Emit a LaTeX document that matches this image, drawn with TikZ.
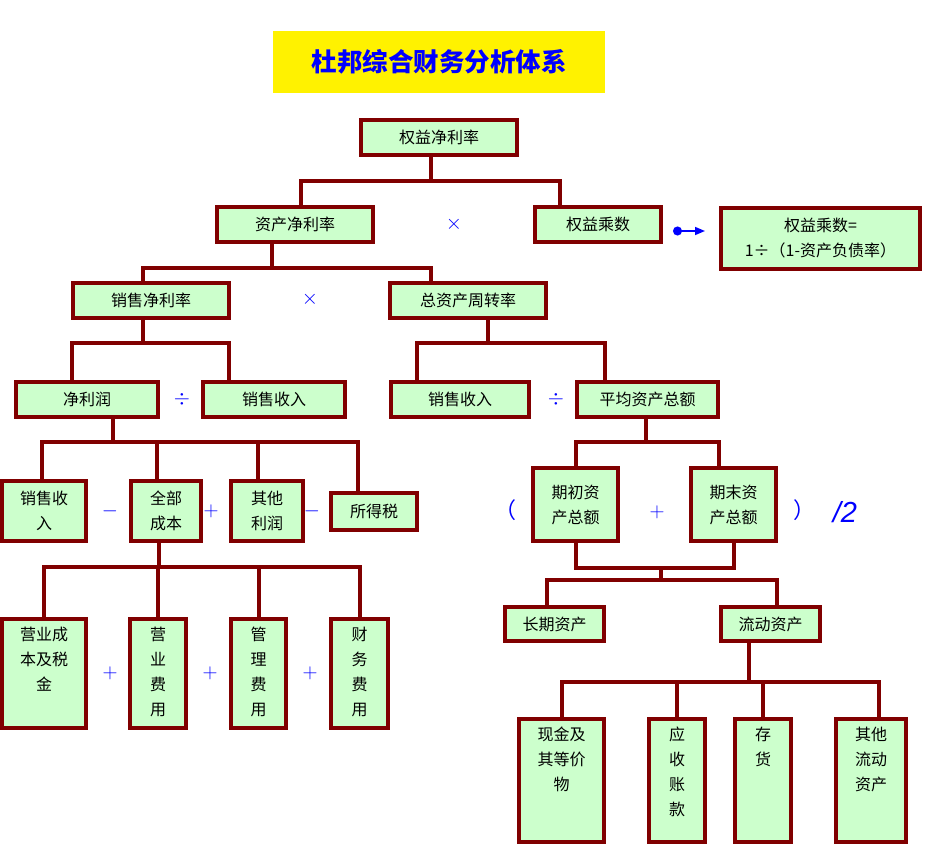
\documentclass[tikz,border=0pt]{standalone}
\usepackage{fontspec}
\newfontfamily\cjk{Noto Sans CJK SC}
\newfontfamily\lsans{Liberation Sans}
\usetikzlibrary{arrows.meta}
\definecolor{boxred}{HTML}{800000}
\definecolor{boxgreen}{HTML}{CCFFCC}
\definecolor{opblue}{HTML}{0000FF}
\begin{document}
\begin{tikzpicture}[x=1pt, y=-1pt,
  box/.style={draw=boxred, line width=4pt, fill=boxgreen, inner sep=0pt, align=center, font=\cjk\fontsize{16}{25}\selectfont},
  coltext/.style={anchor=north, inner sep=0pt, align=center, font=\cjk\fontsize{16}{25}\selectfont},
  link/.style={draw=boxred, line width=4pt},
  op/.style={text=opblue, inner sep=0pt, font=\fontsize{21}{21}\selectfont}]
\useasboundingbox (0,0) rectangle (945,853);
\node[fill=yellow, minimum width=332, minimum height=62, inner sep=0pt, text=opblue, font=\cjk\bfseries\fontsize{25.5}{26}\selectfont] (title) at (439,62) {杜邦综合财务分析体系};
\node[box, minimum width=156, minimum height=35] (roe) at (439,137.5) {权益净利率};
\node[box, minimum width=156, minimum height=35] (roa) at (295,224.5) {资产净利率};
\node[box, minimum width=126, minimum height=35] (em) at (598,224.5) {权益乘数};
\node[box, minimum width=199, minimum height=61] (emf) at (820.5,238.5) {权益乘数=\\1÷（1-资产负债率）};
\node[box, minimum width=156, minimum height=35] (npm) at (151,300.5) {销售净利率};
\node[box, minimum width=156, minimum height=35] (tat) at (468,300.5) {总资产周转率};
\node[box, minimum width=142, minimum height=35] (np) at (87,399.5) {净利润};
\node[box, minimum width=142, minimum height=35] (sales) at (274,399.5) {销售收入};
\node[box, minimum width=138, minimum height=35] (salesr) at (460,399.5) {销售收入};
\node[box, minimum width=141, minimum height=35] (avgta) at (647.5,399.5) {平均资产总额};
\node[box, minimum width=84, minimum height=60] (rev) at (44,511) {销售收\\入};
\node[box, minimum width=70, minimum height=60] (tc) at (166,511) {全部\\成本};
\node[box, minimum width=72, minimum height=60] (oi) at (267,511) {其他\\利润};
\node[box, minimum width=86, minimum height=37] (tax) at (374,511.5) {所得税};
\node[box, minimum width=85, minimum height=73] (bta) at (575.5,504.5) {期初资\\产总额};
\node[box, minimum width=85, minimum height=73] (eta) at (733.5,504.5) {期末资\\产总额};
\node[box, minimum width=99, minimum height=34] (lta) at (554.5,624) {长期资产};
\node[box, minimum width=99, minimum height=34] (ca) at (770.5,624) {流动资产};
\node[box, minimum width=84, minimum height=109] (cost) at (44,673.5) {};
\node[box, minimum width=56, minimum height=109] (sell) at (158,673.5) {};
\node[box, minimum width=55, minimum height=109] (admin) at (258.5,673.5) {};
\node[box, minimum width=57, minimum height=109] (fin) at (359.5,673.5) {};
\node[box, minimum width=85, minimum height=123] (cash) at (561.5,780.5) {};
\node[box, minimum width=56, minimum height=123] (recv) at (677,780.5) {};
\node[box, minimum width=56, minimum height=123] (inv) at (763,780.5) {};
\node[box, minimum width=70, minimum height=123] (oca) at (871,780.5) {};
\node[coltext] (costt) at ([yshift=-10pt]cost.north) {营业成\\本及税\\金};
\node[coltext] (sellt) at ([yshift=-10pt]sell.north) {营\\业\\费\\用};
\node[coltext] (admint) at ([yshift=-10pt]admin.north) {管\\理\\费\\用};
\node[coltext] (fint) at ([yshift=-10pt]fin.north) {财\\务\\费\\用};
\node[coltext] (casht) at ([yshift=-10pt]cash.north) {现金及\\其等价\\物};
\node[coltext] (recvt) at ([yshift=-10pt]recv.north) {应\\收\\账\\款};
\node[coltext] (invt) at ([yshift=-10pt]inv.north) {存\\货};
\node[coltext] (ocat) at ([yshift=-10pt]oca.north) {其他\\流动\\资产};
\node[op] (mul1) at (454,224) {$\times$};
\node[op] (mul2) at (310,299) {$\times$};
\node[op] (div1) at (182,399) {$\div$};
\node[op] (div2) at (556,399) {$\div$};
\node[op] (sub1) at (110,511) {$-$};
\node[op] (add1) at (211,511) {$+$};
\node[op] (sub2) at (312,511) {$-$};
\node[op] (add2) at (110,673) {$+$};
\node[op] (add3) at (210,673) {$+$};
\node[op] (add4) at (310,673) {$+$};
\node[op] (add5) at (657,512) {$+$};
\node[op, font=\cjk\fontsize{22}{22}\selectfont] (lpar) at (505,510) {（};
\node[op, font=\cjk\fontsize{22}{22}\selectfont] (rpar) at (804,510) {）};
\node[op, font=\lsans\itshape\fontsize{29}{29}\selectfont] (half) at (845,512) {/2};
\coordinate (tail) at (673,231);
\coordinate (tip) at (705,231);
\draw[opblue, line width=1.5pt, {Circle[length=9pt]}-{Triangle[length=10pt,width=8pt]}] (tail) -- (tip);
\coordinate (b1) at (431,181);
\draw[link] ([xshift=-8]roe.south) -- (b1);
\draw[link] ([xshift=6]roa.north) |- (b1) -| ([xshift=-38]em.north);
\coordinate (b2) at (272,268);
\draw[link] ([xshift=-23]roa.south) -- (b2);
\draw[link] ([xshift=-8]npm.north) |- (b2) -| ([xshift=-37]tat.north);
\coordinate (b3) at (143,343);
\draw[link] ([xshift=-8]npm.south) -- (b3);
\draw[link] ([xshift=-15]np.north) |- (b3) -| ([xshift=-45]sales.north);
\coordinate (b4) at (488,343);
\draw[link] ([xshift=20]tat.south) -- (b4);
\draw[link] ([xshift=-43]salesr.north) |- (b4) -| ([xshift=-43]avgta.north);
\coordinate (b5) at (113,442);
\draw[link] ([xshift=26]np.south) -- (b5);
\draw[link] ([xshift=-2]rev.north) |- (b5) -| ([xshift=-16]tax.north);
\draw[link] ([xshift=-9]tc.north) |- (b5);
\draw[link] ([xshift=-9]oi.north) |- (b5);
\coordinate (b6) at (645.5,442);
\draw[link] ([xshift=-2]avgta.south) -- (b6);
\draw[link] (bta.north) |- (b6) -| ([xshift=-15]eta.north);
\coordinate (b7) at (661,568);
\coordinate (b8) at (661,580);
\draw[link] (bta.south) |- (b7) -| (eta.south);
\draw[link] (b7) -- (b8);
\draw[link] ([xshift=-8]lta.north) |- (b8) -| ([xshift=6]ca.north);
\coordinate (b9) at (159,567);
\draw[link] ([xshift=-7]tc.south) -- (b9);
\draw[link] (cost.north) |- (b9) -| (fin.north);
\draw[link] (sell.north) |- (b9);
\draw[link] (admin.north) |- (b9);
\coordinate (b10) at (748.5,682);
\draw[link] ([xshift=-22]ca.south) -- (b10);
\draw[link] (cash.north) |- (b10) -| ([xshift=8]oca.north);
\draw[link] (recv.north) |- (b10);
\draw[link] (inv.north) |- (b10);
\end{tikzpicture}
\end{document}
